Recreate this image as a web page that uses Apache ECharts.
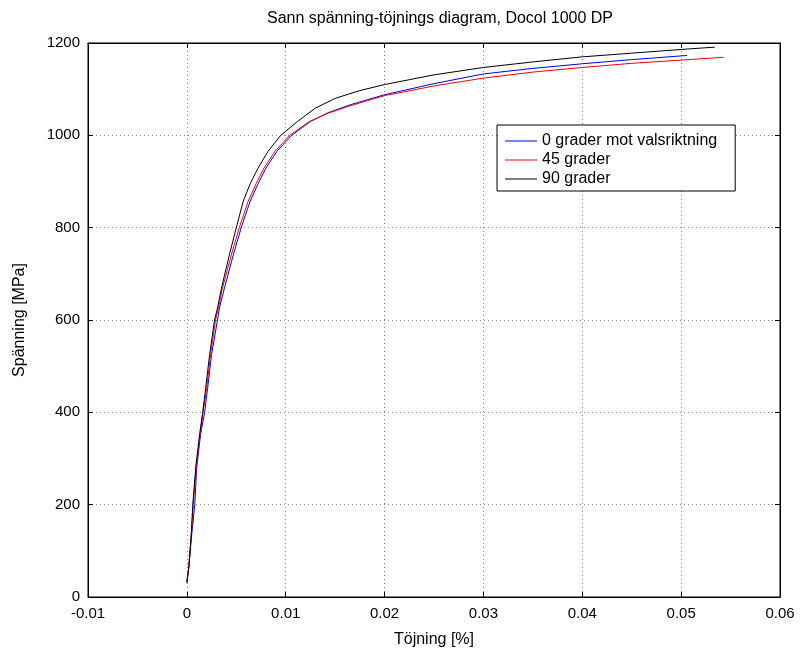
<!DOCTYPE html>
<html>
<head>
<meta charset="utf-8">
<script src="https://cdn.jsdelivr.net/npm/echarts@6/dist/echarts.min.js"></script>
<style>
  html, body { margin: 0; padding: 0; background: #fff; }
  #chart { width: 808px; height: 657px; }
</style>
</head>
<body>
<div id="chart"></div>
<script>
// strain [%] / stress [MPa]
var strain0 = [0, 0.0002, 0.0005, 0.0008, 0.001, 0.0014, 0.0018, 0.0021, 0.0025, 0.0031, 0.0033, 0.0038, 0.0047, 0.0055, 0.0064, 0.0072, 0.008, 0.0091, 0.0106, 0.0125, 0.0143, 0.0165, 0.02, 0.025, 0.03, 0.035, 0.04, 0.045, 0.0506];
var stress0 = [32, 65, 137, 200, 282, 354, 400, 452, 525, 600, 626, 669, 741, 800, 857, 895, 929, 965, 1000, 1030, 1049, 1066, 1088, 1112, 1133, 1145, 1155, 1164, 1173];

var strain45 = [0, 0.0002, 0.00045, 0.00065, 0.00095, 0.00135, 0.00165, 0.002, 0.0024, 0.0029, 0.0032, 0.0036, 0.0045, 0.0053, 0.0062, 0.007, 0.0078, 0.0089, 0.0104, 0.0124, 0.0143, 0.0165, 0.02, 0.025, 0.03, 0.035, 0.04, 0.045, 0.05, 0.0543];
var stress45 = [35, 65, 137, 200, 282, 354, 400, 452, 525, 600, 626, 669, 741, 800, 857, 895, 929, 965, 1000, 1030, 1048, 1064, 1086, 1107, 1124, 1137, 1147, 1156, 1163, 1169];

var strain90 = [0, 0.0002, 0.00045, 0.0006, 0.0009, 0.0013, 0.0016, 0.0019, 0.0023, 0.0028, 0.0031, 0.0035, 0.0043, 0.005, 0.0057, 0.0064, 0.0072, 0.0082, 0.0095, 0.0112, 0.013, 0.015, 0.0175, 0.02, 0.025, 0.03, 0.035, 0.04, 0.045, 0.05, 0.0534];
var stress90 = [30, 65, 137, 200, 282, 354, 400, 452, 525, 600, 626, 669, 741, 800, 857, 895, 929, 965, 1000, 1030, 1059, 1080, 1097, 1110, 1131, 1147, 1159, 1170, 1178, 1186, 1191];

var names = ['0 grader mot valsriktning', '45 grader', '90 grader'];

function pairs(xs, ys) {
  return xs.map(function (x, i) { return [x, ys[i]]; });
}

var chart = echarts.init(document.getElementById('chart'));
var font = 'Liberation Sans, Arial, sans-serif';
var gridLine = { show: true, lineStyle: { color: '#888', type: [1, 3], width: 1 } };
var tick = { show: true, inside: true, length: 5, lineStyle: { color: '#000' } };

function line(name, data, color) {
  return {
    name: name, type: 'line', data: data, symbol: 'none',
    lineStyle: { color: color, width: 1 }, itemStyle: { color: color },
    animation: false
  };
}

chart.setOption({
  backgroundColor: '#fff',
  textStyle: { fontFamily: font },
  title: {
    text: 'Sann spänning-töjnings diagram, Docol 1000 DP',
    left: 262, top: 6,
    textStyle: { fontSize: 16, fontWeight: 'normal', color: '#000', fontFamily: font }
  },
  legend: {
    orient: 'vertical',
    left: 497, top: 125,
    padding: [8, 18, 4, 8],
    itemGap: 3,
    icon: 'rect',
    itemWidth: 32, itemHeight: 1,
    borderColor: '#000', borderWidth: 1,
    backgroundColor: '#fff',
    textStyle: { fontSize: 16, color: '#000', fontFamily: font },
    data: names
  },
  grid: { left: 88, right: 28, top: 43, bottom: 60, show: true, borderColor: '#000', borderWidth: 1 },
  xAxis: [{
    type: 'value', min: -0.01, max: 0.06, interval: 0.01,
    name: 'Töjning [%]', nameLocation: 'middle', nameGap: 35,
    nameTextStyle: { fontSize: 16, color: '#000' },
    axisLine: { onZero: false, lineStyle: { color: '#000' } },
    axisTick: tick,
    axisLabel: { fontSize: 15, color: '#000', margin: 9, formatter: function (v) { return String(+v.toFixed(3)); } },
    splitLine: gridLine
  }, {
    type: 'value', position: 'top', min: -0.01, max: 0.06, interval: 0.01,
    axisLine: { show: true, onZero: false, lineStyle: { color: '#000' } },
    axisTick: tick,
    axisLabel: { show: false }, splitLine: { show: false }
  }],
  yAxis: [{
    type: 'value', min: 0, max: 1200, interval: 200,
    name: 'Spänning [MPa]', nameLocation: 'middle', nameGap: 60,
    nameTextStyle: { fontSize: 16, color: '#000' },
    axisLine: { show: true, onZero: false, lineStyle: { color: '#000' } },
    axisTick: tick,
    axisLabel: { fontSize: 15, color: '#000', margin: 8, formatter: function (v) { return String(v); } },
    splitLine: gridLine
  }, {
    type: 'value', position: 'right', min: 0, max: 1200, interval: 200,
    axisLine: { show: true, onZero: false, lineStyle: { color: '#000' } },
    axisTick: tick,
    axisLabel: { show: false }, splitLine: { show: false }
  }],
  series: [
    line(names[0], pairs(strain0, stress0), '#0000ff'),
    line(names[1], pairs(strain45, stress45), '#ff0000'),
    line(names[2], pairs(strain90, stress90), '#000000')
  ]
});
</script>
</body>
</html>
